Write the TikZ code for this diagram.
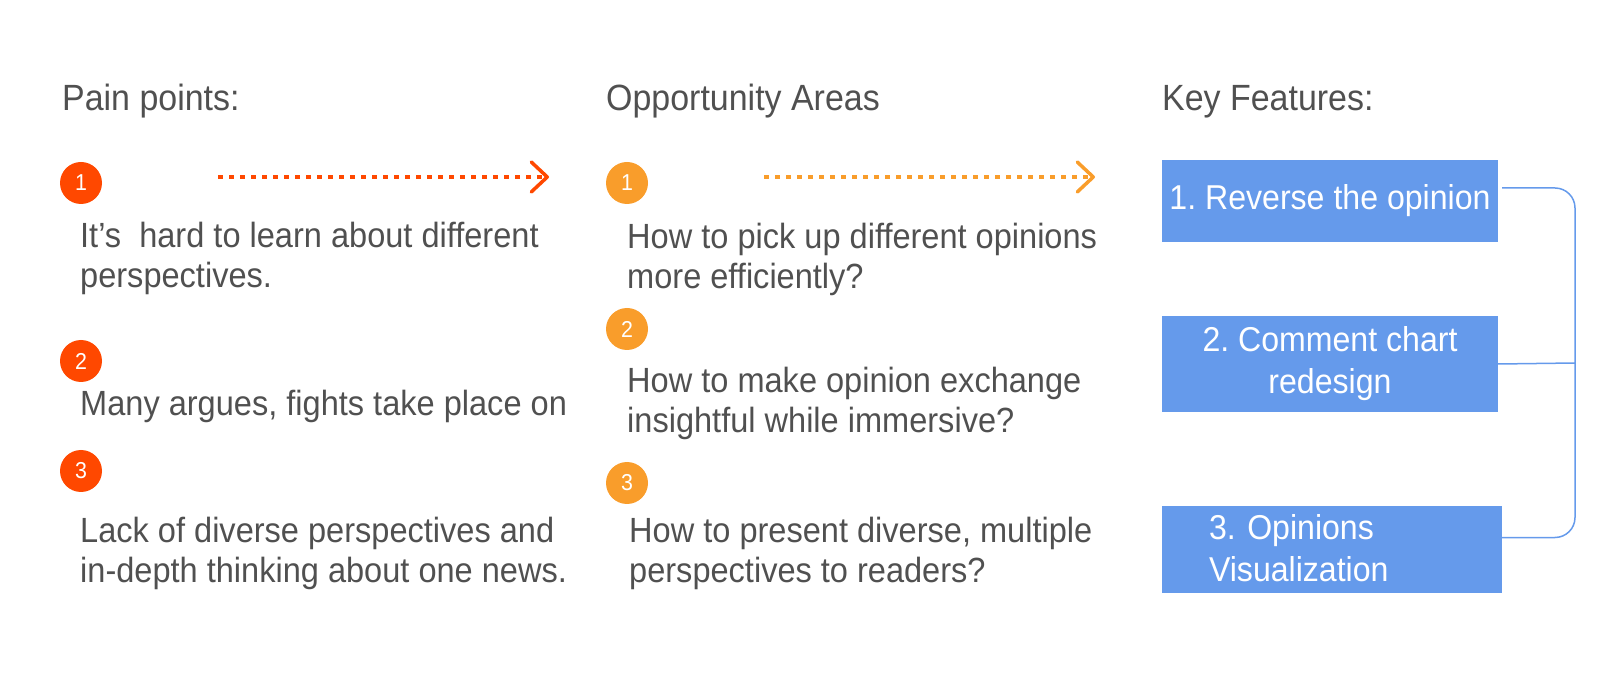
\documentclass[tikz,border=0pt]{standalone}
\usepackage{fontspec}
\setmainfont{Liberation Sans}[FakeStretch=0.93]
\usepackage{tikz}
\usetikzlibrary{arrows.meta,calc}
\frenchspacing
\definecolor{FontColor}{RGB}{80,80,80}
\definecolor{Red}{RGB}{255,72,0}
\definecolor{Orange}{RGB}{249,157,43}
\definecolor{Blue}{RGB}{101,154,235}

\tikzset{
    head/.style={anchor=base west, inner sep=0, text=FontColor, font=\fontsize{36.5}{44}\selectfont},
    body/.style={anchor=base west, inner sep=0, text=FontColor, align=left, font=\fontsize{35}{40}\selectfont},
    num/.style={circle, minimum size=42, inner sep=0, text=white, font=\fontsize{23}{23}\selectfont},
    feature/.style={fill=Blue, text=white, inner sep=0, align=center, font=\fontsize{34.5}{42}\selectfont},
    flow/.style={line width=3.5, dash pattern=on 5pt off 6pt, -{Straight Barb[length=16pt,width=30pt,line width=3.5pt,round]}},
    link/.style={draw=Blue, line width=1.5}
}

\begin{document}
\begin{tikzpicture}[x=1pt,y=-1pt]
    \useasboundingbox (0,0) rectangle (1610,684);

    \node[head] (painhead) at (62,111) {Pain points:};
    
    \node[head] (opphead) at (606,111) {Opportunity Areas};
    
    \node[head] (keyhead) at (1162,111) {Key Features:};
    
    \node[num, fill=Red] (pnum1) at (81,183) {1};
    \node[num, fill=Red] (pnum2) at (81,361) {2};
    \node[num, fill=Red] (pnum3) at (81,471) {3};
    
    \node[num, fill=Orange] (onum1) at (627,183) {1};
    \node[num, fill=Orange] (onum2) at (627,329) {2};
    \node[num, fill=Orange] (onum3) at (627,483) {3};
    
    \node[body] (pain1) at (80,288) {It’s~ hard to learn about different\\perspectives.};
    \node[body] (pain2) at (80,416) {Many argues, fights take place on};
    \node[body] (pain3) at (80,582) {Lack of diverse perspectives and\\in-depth thinking about one news.};
    
    \node[body] (opp1) at (627,289) {How to pick up different opinions\\more efficiently?};
    \node[body] (opp2) at (627,433) {How to make opinion exchange\\insightful while immersive?};
    \node[body] (opp3) at (629,582) {How to present diverse, multiple\\perspectives to readers?};
    
    \node[feature, minimum width=336, minimum height=82] (feat1) at (1330,201) {1. Reverse the opinion};
    
    \node[feature, minimum width=336, minimum height=96] (feat2) at (1330,364) {2. Comment chart\\redesign};
    
    \node[feature, minimum width=340, minimum height=87, text width=246, align=left] (feat3) at (1332,549.5) {\raisebox{3pt}{3. Opinions}\\\raisebox{3pt}{Visualization}};
    
    % dotted arrows between the columns
    \coordinate (painfrom) at (218,177);
    \coordinate (painto) at (549,177);
    \coordinate (oppfrom) at (764,177);
    \coordinate (oppto) at (1095,177);
    \draw[flow, draw=Red] (painfrom) to (painto);
    \draw[flow, draw=Orange] (oppfrom) to (oppto);
    
    % bracket joining the features
    \coordinate (spine) at (1575,363);
    \draw[link, rounded corners=20] ($(feat1.east)+(4,-13)$) -| (spine) |- ($(feat3.east)+(0,-12)$);
    \draw[link] (feat2.east) to (spine);
    
    \end{tikzpicture}
\end{document}
